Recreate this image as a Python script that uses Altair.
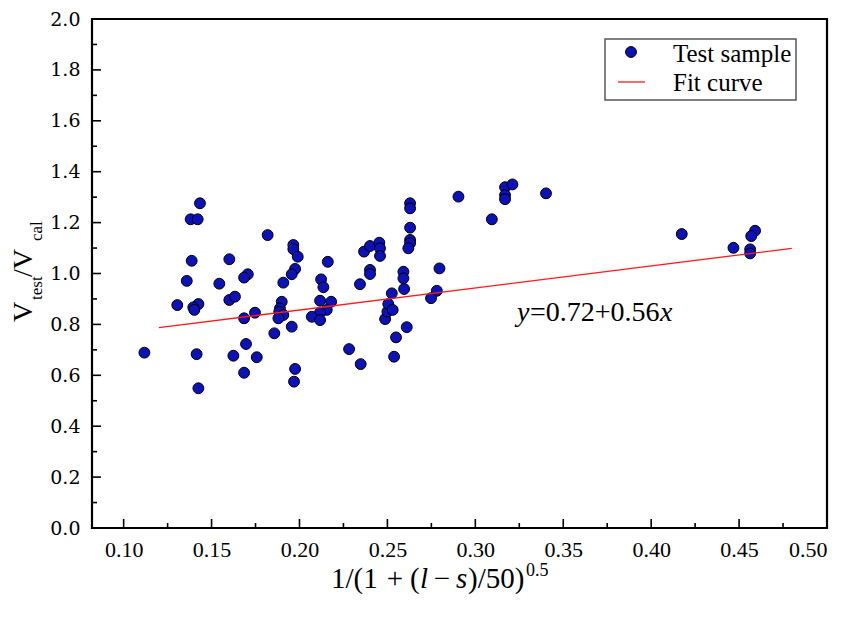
import altair as alt
import pandas as pd

# ---- data ----
sample_x = [0.1434, 0.1381, 0.1421, 0.1819, 0.1387, 0.1601, 0.1359, 0.1544, 0.1706, 0.1685,
            0.1305, 0.1425, 0.1396, 0.1402, 0.1601, 0.1633, 0.1685, 0.1747, 0.1857, 0.1118,
            0.1415, 0.1624, 0.1696, 0.1757, 0.1685, 0.1425,
            0.1965, 0.1965, 0.1990, 0.1975, 0.1956, 0.1908, 0.1899, 0.1889, 0.1885, 0.1908,
            0.1880, 0.1956, 0.1975, 0.1969,
            0.2161, 0.2123, 0.2136, 0.2117, 0.2180, 0.2155, 0.2117, 0.2070, 0.2117, 0.2282, 0.2348,
            0.2367, 0.2401, 0.2454, 0.2458, 0.2458, 0.2401, 0.2401, 0.2344,
            0.2487, 0.2500, 0.2525, 0.2505, 0.2530, 0.2591, 0.2591, 0.2595, 0.2610, 0.2549, 0.2538,
            0.2629, 0.2629, 0.2629, 0.2629, 0.2629, 0.2619,
            0.2796, 0.2781, 0.2748, 0.2904, 0.3094, 0.3169, 0.3211, 0.3169, 0.3169, 0.3402,
            0.4174, 0.4468, 0.4591, 0.4569, 0.4563, 0.4563]
sample_y = [1.276, 1.213, 1.213, 1.151, 1.050, 1.056, 0.971, 0.960, 0.997, 0.984,
            0.876, 0.880, 0.867, 0.857, 0.896, 0.909, 0.824, 0.846, 0.765, 0.689,
            0.683, 0.677, 0.723, 0.671, 0.610, 0.549,
            1.112, 1.096, 1.066, 1.018, 0.997, 0.964, 0.889, 0.863, 0.850, 0.837,
            0.824, 0.791, 0.625, 0.575,
            1.046, 0.977, 0.946, 0.893, 0.889, 0.857, 0.846, 0.830, 0.817, 0.703, 0.644,
            1.086, 1.108, 1.121, 1.099, 1.069, 1.014, 0.998, 0.958,
            0.821, 0.850, 0.922, 0.880, 0.857, 1.007, 0.981, 0.939, 0.789, 0.749, 0.673,
            1.276, 1.256, 1.180, 1.132, 1.119, 1.099,
            1.020, 0.932, 0.903, 1.302, 1.213, 1.339, 1.350, 1.308, 1.292, 1.315,
            1.155, 1.101, 1.168, 1.147, 1.095, 1.079]

fit_x = [0.12, 0.48]
fit_y = [0.787, 1.099]

x_major = [0.10, 0.15, 0.20, 0.25, 0.30, 0.35, 0.40, 0.45, 0.50]
x_minor = [0.125, 0.175, 0.225, 0.275, 0.325, 0.375, 0.425, 0.475]
y_major = [0.0, 0.2, 0.4, 0.6, 0.8, 1.0, 1.2, 1.4, 1.6, 1.8, 2.0]
y_minor = [0.1, 0.3, 0.5, 0.7, 0.9, 1.1, 1.3, 1.5, 1.7, 1.9]

equation = ["y", "=0.72+0.56", "x"]
legend_labels = ["Test sample", "Fit curve"]

SERIF = "Liberation Serif"
WIDE_SERIF = "DejaVu Serif"
W, H = 735, 509

xs = alt.Scale(domain=[0.082, 0.50], nice=False, zero=False)
ys = alt.Scale(domain=[0.0, 2.0], nice=False, zero=False)

pts = pd.DataFrame({"x": sample_x, "y": sample_y})
fit = pd.DataFrame({"x": fit_x, "y": fit_y})

xaxis = alt.Axis(values=x_major, format=".2f", ticks=False, domain=False, grid=False,
                 labelFont=SERIF, labelFontSize=22, labelColor="black", labelPadding=11,
                 title=None)
yaxis = alt.Axis(values=y_major, format=".1f", ticks=False, domain=False, grid=False,
                 labelFont=WIDE_SERIF, labelFontSize=19, labelColor="black", labelPadding=12,
                 title=None)

points = alt.Chart(pts).mark_point(filled=True, shape="circle", size=118, fill="#0c12b8",
                                   stroke="black", strokeWidth=1, opacity=1).encode(
    x=alt.X("x:Q", scale=xs, axis=xaxis),
    y=alt.Y("y:Q", scale=ys, axis=yaxis),
)

fitline = alt.Chart(fit).mark_line(color="#ff1a1a", strokeWidth=1.3).encode(
    x=alt.X("x:Q", scale=xs, axis=xaxis), y=alt.Y("y:Q", scale=ys, axis=yaxis))

def xticks(vals, length):
    return alt.Chart(pd.DataFrame({"x": vals})).mark_rule(color="black", strokeWidth=1.6).encode(
        x=alt.X("x:Q", scale=xs, axis=xaxis), y=alt.value(H), y2=alt.value(H - length))

def yticks(vals, length):
    return alt.Chart(pd.DataFrame({"y": vals})).mark_rule(color="black", strokeWidth=1.6).encode(
        y=alt.Y("y:Q", scale=ys, axis=yaxis), x=alt.value(0), x2=alt.value(length))

def label(text, x, y, size, **kw):
    return alt.Chart(pd.DataFrame({"t": [text]})).mark_text(
        font=SERIF, fontSize=size, color="black", align=kw.pop("align", "left"),
        baseline="alphabetic", **kw).encode(x=alt.value(x), y=alt.value(y), text="t:N")

# y-axis title  V_test / V_cal
ytitle = [
    label("V", -60, 303, 28, angle=270),
    label("test", -50, 281, 17, angle=270),
    label("/V", -60, 258, 28, angle=270),
    label("cal", -50, 222, 17, angle=270),
]

# x-axis title  1/(1 + (l - s)/50)^0.5
bx = 569
xtitle = [
    label("1/(1", 331 - 92, bx, 29),
    label("+", 395 - 92, bx, 29, align="center"),
    label("(", 410 - 92, bx, 29),
    label("l", 420 - 92, bx, 29, fontStyle="italic"),
    label("\u2212", 442 - 92, bx, 29, align="center"),
    label("s", 456 - 92, bx, 29, fontStyle="italic"),
    label(")/50)", 468 - 92, bx, 29),
    label("0.5", 526 - 92, bx - 12, 18),
]

eq = [
    label(equation[0], 425, 302, 28, fontStyle="italic"),
    label(equation[1], 438, 302, 28),
    label(equation[2], 568, 302, 28, fontStyle="italic"),
]

legend_box = alt.Chart(pd.DataFrame({"a": [0]})).mark_rect(
    fill="white", stroke="#555555", strokeWidth=1.5).encode(
    x=alt.value(513), x2=alt.value(704), y=alt.value(20), y2=alt.value(81))
legend_dot = alt.Chart(pd.DataFrame({"a": [0]})).mark_point(
    filled=True, shape="circle", size=118, fill="#0c12b8", stroke="black",
    strokeWidth=1, opacity=1).encode(x=alt.value(539), y=alt.value(33))
legend_line = alt.Chart(pd.DataFrame({"a": [0]})).mark_rule(
    color="#ff1a1a", strokeWidth=1.3).encode(x=alt.value(526), x2=alt.value(553), y=alt.value(63))
legend = [legend_box, legend_dot, legend_line,
          label(legend_labels[0], 581, 43, 25),
          label(legend_labels[1], 581, 72, 25)]

chart = alt.layer(
    points, fitline,
    xticks(x_major, 9), xticks(x_minor, 5), yticks(y_major, 9), yticks(y_minor, 5),
    *ytitle, *xtitle, *eq, *legend,
).properties(
    width=W, height=H,
    padding={"left": 84, "top": 11, "right": 24, "bottom": 80},
    autosize=alt.AutoSizeParams(type="none"),
).configure_view(stroke="black", strokeWidth=2.2
).configure_axisX(labelFont=SERIF, labelFontSize=22
).configure_axisY(labelFont=WIDE_SERIF, labelFontSize=19)

chart.save("out.html", embed_options={"renderer": "svg", "actions": False})
